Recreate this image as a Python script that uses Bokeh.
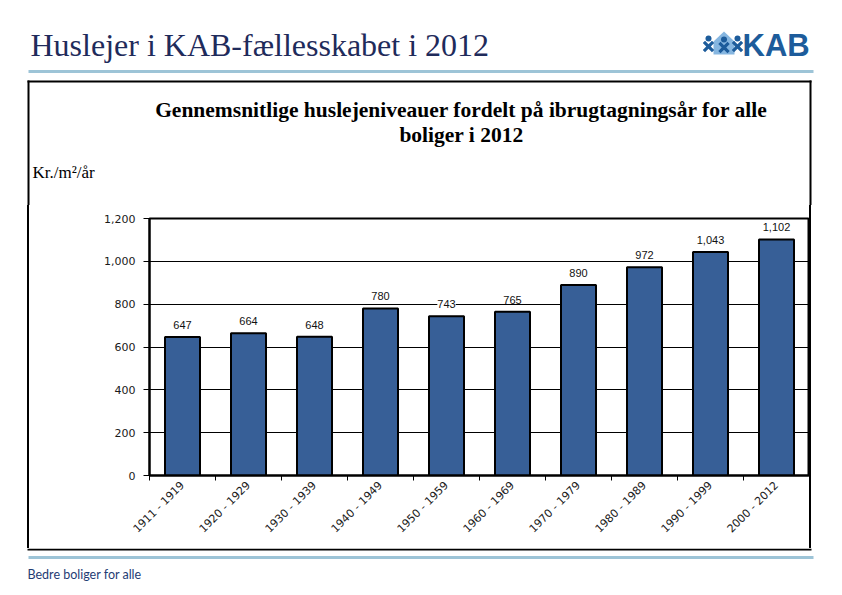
import math
from bokeh.plotting import figure
from bokeh.layouts import column, row
from bokeh.models import (ColumnDataSource, Range1d, LinearAxis, FixedTicker,
                          NumeralTickFormatter, LabelSet, Spacer)
from bokeh.core.properties import value
from bokeh.embed import file_html
from bokeh.resources import INLINE

# ---------------- data ----------------
periods = ["1911 - 1919", "1920 - 1929", "1930 - 1939", "1940 - 1949", "1950 - 1959",
           "1960 - 1969", "1970 - 1979", "1980 - 1989", "1990 - 1999", "2000 - 2012"]
rent = [647, 664, 648, 780, 743, 765, 890, 972, 1043, 1102]
value_labels = [f"{v:,}" for v in rent]
y_ticks = [0, 200, 400, 600, 800, 1000, 1200]

slide_title = "Huslejer i KAB-fællesskabet i 2012"
chart_title = ["Gennemsnitlige huslejeniveauer fordelt på ibrugtagningsår for alle",
               "boliger i 2012"]
unit_label = "Kr./m²/år"
logo_text = "KAB"
footer_text = "Bedre boliger for alle"

# ---------------- page geometry (pixels) ----------------
W, H = 830, 585
TOP_H = 205          # header band
MID_B = 548          # bottom of chart band
LEFT_W = 40          # left strip
CH_R = 809           # right edge of chart figure (= plot frame right)
FL, FT, FB = 149, 218, 475
NX = len(periods)
YMAX = y_ticks[-1]
idx = list(range(NX))
BOX_L, BOX_R, BOX_T, BOX_B = 28, 810, 81, 549
RULE = "#9DC4D7"


def canvas(x0, x1, y0, y1):
    f = figure(width=x1 - x0, height=y1 - y0, x_range=Range1d(x0, x1),
               y_range=Range1d(y1, y0), output_backend="svg", toolbar_location=None,
               x_axis_location=None, y_axis_location=None, min_border=0,
               outline_line_color=None, background_fill_color="white",
               border_fill_color="white")
    for g in f.grid:
        g.visible = False
    return f


def txt(f, x, y, s, font, size, color="black", style="normal", align="left"):
    f.text(x=[x], y=[y], text=[s], text_font=value(font), text_font_size=value(size),
           text_color=color, text_font_style=style, text_align=align,
           text_baseline="alphabetic")


# ---------------- header ----------------
top = canvas(0, W, 0, TOP_H)
txt(top, 30, 44, slide_title, "Liberation Serif", "32px", "#1F2B5B")
top.quad(left=BOX_L, right=813, top=69.5, bottom=72.5, fill_color=RULE, line_color=None)
top.quad(left=BOX_L - 1, right=BOX_R + 1, top=BOX_T - 1, bottom=BOX_T + 1,
         fill_color="black", line_color=None)
top.quad(left=[BOX_L - 1, BOX_R - 1], right=[BOX_L + 1, BOX_R + 1], top=BOX_T - 1,
         bottom=TOP_H, fill_color="black", line_color=None)
txt(top, 461, 109, chart_title[0], "Liberation Serif", "21.5px", "black", "bold", "center")
txt(top, 461, 134, chart_title[1], "Liberation Serif", "21.5px", "black", "bold", "center")
txt(top, 32, 172, unit_label, "Liberation Serif", "17px", "black")
# logo
txt(top, 742, 45, logo_text, "Liberation Sans", "31px", "#1D5C9B", "bold")
top.patch(x=[713, 723.5, 734, 734, 713], y=[41, 31, 41, 54, 54], fill_color="#86B6E0",
          line_color=None)


def figure_icon(f, cx, cy, s=6.5, t=1.6, color="#1D5C9B"):
    pts = [(t, t), (s, t), (s, -t), (t, -t), (t, -s), (-t, -s), (-t, -t), (-s, -t),
           (-s, t), (-t, t), (-t, s), (t, s)]
    c = math.cos(math.pi / 4)
    f.patch(x=[cx + (a - b) * c for a, b in pts], y=[cy + (a + b) * c for a, b in pts],
            fill_color=color, line_color=None)
    f.scatter(x=[cx], y=[cy - s - 1.5], size=6, marker="circle", fill_color=color,
              line_color=None)


figure_icon(top, 708, 46)
figure_icon(top, 723.5, 47)
figure_icon(top, 737, 46)

# ---------------- chart ----------------
p = figure(width=CH_R - LEFT_W, height=MID_B - TOP_H,
           x_range=Range1d(-0.5, NX - 0.5), y_range=Range1d(0, YMAX),
           output_backend="svg", toolbar_location=None, x_axis_location=None,
           min_border_left=FL - LEFT_W, min_border_right=0,
           min_border_top=FT - TOP_H, min_border_bottom=MID_B - FB)
p.background_fill_color = "white"
p.border_fill_color = "white"
p.outline_line_color = "black"
p.outline_line_width = 2
p.xgrid.grid_line_color = None

p.yaxis.ticker = FixedTicker(ticks=y_ticks)
p.yaxis.formatter = NumeralTickFormatter(format="0,0")
p.yaxis.major_label_text_font = "DejaVu Sans"
p.yaxis.major_label_text_font_size = "11px"
p.yaxis.major_label_text_color = "#1a1a1a"
p.yaxis.axis_line_color = "black"
p.yaxis.axis_line_width = 2
p.yaxis.major_tick_line_color = "black"
p.yaxis.major_tick_out = 6
p.yaxis.major_tick_in = 0
p.yaxis.minor_tick_line_color = None
p.yaxis.major_label_standoff = 8
p.ygrid.grid_line_color = "black"
p.ygrid.grid_line_width = 1

# category axis: labels at bar centres, small ticks on the category boundaries
cat_axis = LinearAxis(ticker=FixedTicker(ticks=idx,
                                         minor_ticks=[i - 0.5 for i in range(NX + 1)]),
                      major_label_overrides={i: periods[i] for i in idx},
                      axis_line_color="black", axis_line_width=2,
                      major_tick_line_color=None, major_tick_out=0, major_tick_in=0,
                      minor_tick_line_color="black", minor_tick_out=5, minor_tick_in=0,
                      major_label_orientation=math.pi / 4,
                      major_label_standoff=3, major_label_text_font="DejaVu Sans",
                      major_label_text_font_size="11px", major_label_text_color="#1a1a1a")
p.add_layout(cat_axis, "below")

src = ColumnDataSource(dict(pos=idx, period=periods, rent=rent, label=value_labels))
p.vbar(x="pos", top="rent", width=0.53, source=src,
       fill_color="#375F97", line_color="black", line_width=2)
p.add_layout(LabelSet(x="pos", y="rent", text="label", source=src, y_offset=12,
                      text_align="center", text_baseline="middle",
                      text_font=value("Liberation Sans"), text_font_size=value("11px"),
                      text_color="#111111", background_fill_color="white"))

# ---------------- box sides beside the chart ----------------
MID_H = MID_B - TOP_H
black_css = {"background-color": "black"}
middle = row(Spacer(width=BOX_L - 1, height=MID_H),
             Spacer(width=2, height=MID_H, styles=black_css),
             Spacer(width=LEFT_W - BOX_L - 1, height=MID_H),
             p,
             Spacer(width=2, height=MID_H, styles=black_css),
             Spacer(width=W - CH_R - 2, height=MID_H),
             spacing=0)

# ---------------- footer ----------------
bottom = canvas(0, W, MID_B, H)
bottom.quad(left=BOX_L - 1, right=BOX_R + 1, top=MID_B, bottom=BOX_B + 1,
            fill_color="black", line_color=None)
bottom.quad(left=BOX_L, right=813, top=555.5, bottom=558.5, fill_color=RULE, line_color=None)
txt(bottom, 27, 574, footer_text, "Lato", "12.5px", "#1F3C74")

page = column(top, middle, bottom, spacing=0)
open("out.html", "w").write(file_html(page, INLINE))
